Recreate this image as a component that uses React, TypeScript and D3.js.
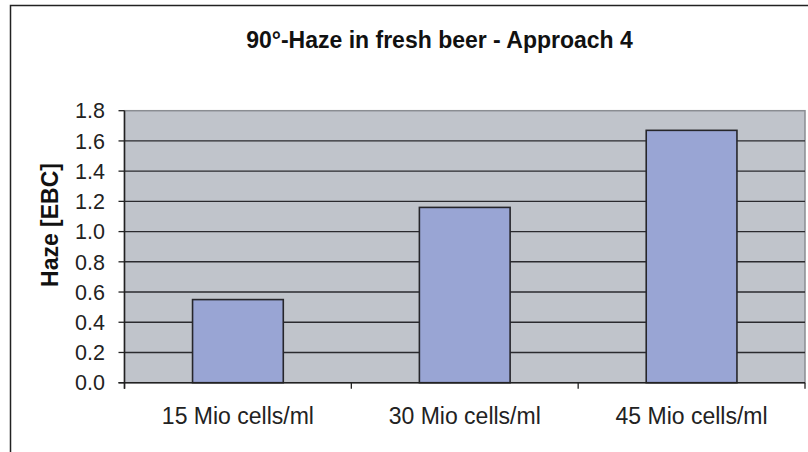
import * as d3 from "d3";

const categories = ["15 Mio cells/ml", "30 Mio cells/ml", "45 Mio cells/ml"];
const hazeValues = [0.55, 1.16, 1.67];
const yTicks = [0, 0.2, 0.4, 0.6, 0.8, 1.0, 1.2, 1.4, 1.6, 1.8];

const W = 808;
const H = 452;
const plot = { left: 124.5, right: 805, top: 110.7, bottom: 382.7 };
const font = "'Liberation Sans', Arial, Helvetica, sans-serif";

export default function App() {
  const x = d3
    .scaleBand<string>()
    .domain(categories)
    .range([plot.left, plot.right])
    .paddingInner(0.6)
    .paddingOuter(0.3);
  const y = d3.scaleLinear().domain([0, 1.8]).range([plot.bottom, plot.top]);
  const band = (plot.right - plot.left) / categories.length;

  return (
    <svg
      width={W}
      height={H}
      style={{ position: "absolute", left: 0, top: 0, background: "#fff" }}
      fontFamily={font}
    >
      {/* chart frame, cut off at right and bottom */}
      <rect x={10.5} y={5.5} width={W + 20} height={H + 20} fill="#fff" stroke="#222" strokeWidth={1.5} />

      <text x={439.5} y={48} textAnchor="middle" fontSize={23} fontWeight="bold" fill="#111">
        90°-Haze in fresh beer - Approach 4
      </text>

      {/* plot area */}
      <rect
        x={plot.left}
        y={plot.top}
        width={plot.right - plot.left}
        height={plot.bottom - plot.top}
        fill="#C0C4CB"
        stroke="#8a8d92"
        strokeWidth={1.5}
      />

      {yTicks.slice(1, -1).map((t) => (
        <line key={t} x1={plot.left} x2={plot.right} y1={y(t)} y2={y(t)} stroke="#2a2a2e" strokeWidth={1.4} />
      ))}

      {categories.map((c, i) => (
        <rect
          key={c}
          x={x(c)}
          y={y(hazeValues[i])}
          width={x.bandwidth()}
          height={y(0) - y(hazeValues[i])}
          fill="#99A5D4"
          stroke="#26262b"
          strokeWidth={1.6}
        />
      ))}

      {/* y axis */}
      <line x1={plot.left} x2={plot.left} y1={plot.top} y2={plot.bottom + 6} stroke="#222" strokeWidth={1.5} />
      {yTicks.map((t) => (
        <g key={t}>
          <line x1={plot.left - 6} x2={plot.left} y1={y(t)} y2={y(t)} stroke="#222" strokeWidth={1.3} />
          <text x={105} y={y(t)} dy="0.36em" textAnchor="end" fontSize={21.5} fill="#222">
            {d3.format(".1f")(t)}
          </text>
        </g>
      ))}

      {/* x axis */}
      <line x1={plot.left - 6} x2={plot.right} y1={plot.bottom} y2={plot.bottom} stroke="#222" strokeWidth={1.5} />
      {d3.range(categories.length + 1).map((i) => (
        <line
          key={i}
          x1={plot.left + i * band}
          x2={plot.left + i * band}
          y1={plot.bottom}
          y2={plot.bottom + 6}
          stroke="#222"
          strokeWidth={1.3}
        />
      ))}
      {categories.map((c) => (
        <text key={c} x={x(c)! + x.bandwidth() / 2} y={424} textAnchor="middle" fontSize={23} fill="#222">
          {c}
        </text>
      ))}

      <text
        transform={`translate(58,225) rotate(-90)`}
        textAnchor="middle"
        fontSize={23}
        fontWeight="bold"
        fill="#111"
      >
        Haze [EBC]
      </text>
    </svg>
  );
}
